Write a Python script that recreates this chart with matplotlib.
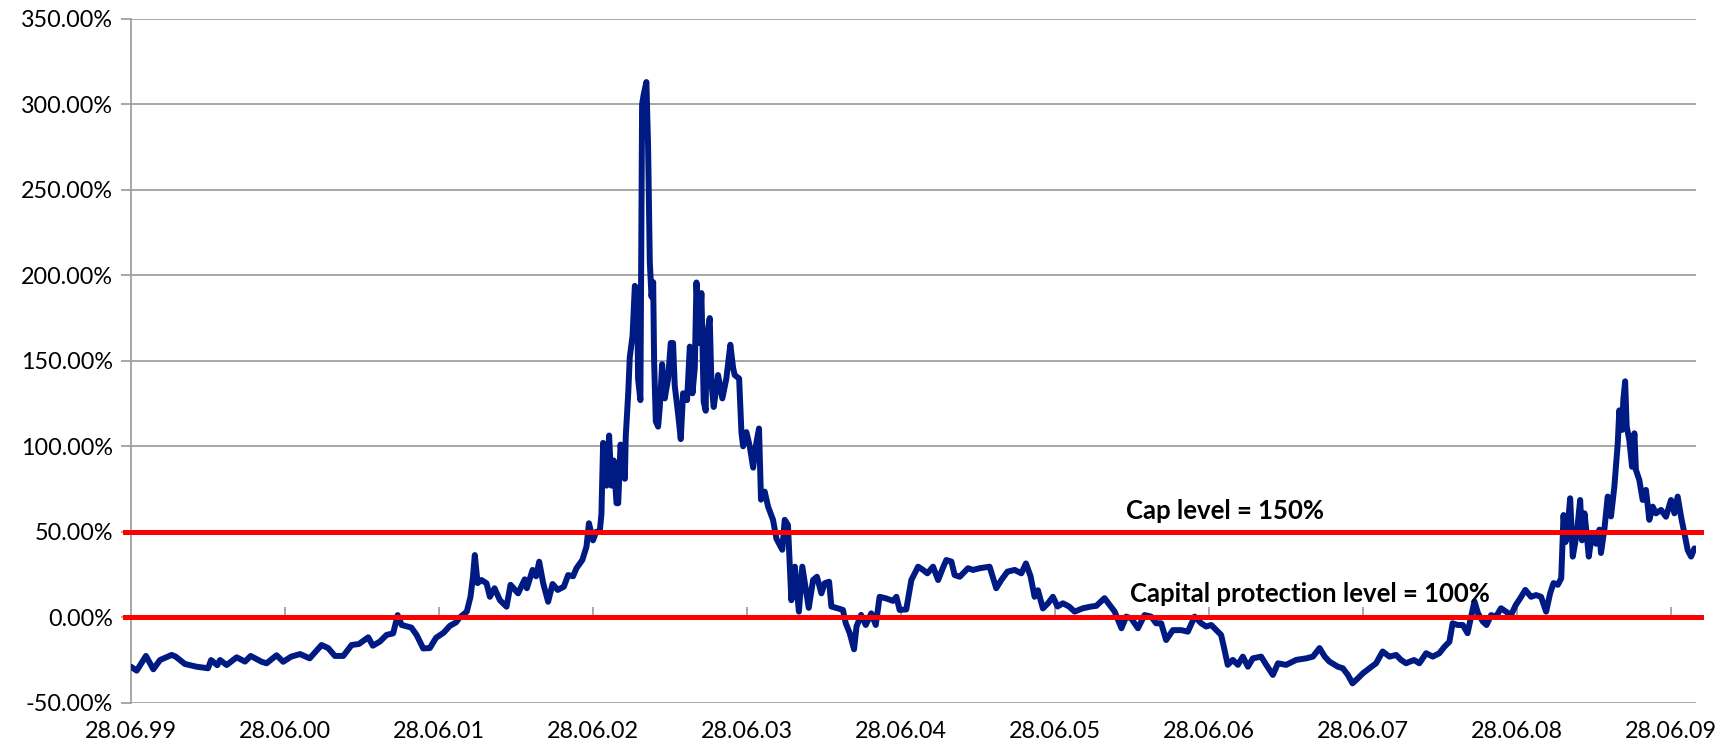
import matplotlib
matplotlib.use("Agg")
import matplotlib.pyplot as plt
import matplotlib.transforms as mtransforms

# ---------------- data ----------------
# x: years elapsed since 28.06.1999 ; y: performance in %
years_since_start = [
    0.00, 0.037, 0.097, 0.145, 0.188, 0.264, 0.29, 0.35, 0.426, 0.50, 0.52, 0.56, 0.578, 0.621,
    0.686, 0.74, 0.777, 0.848, 0.88, 0.945, 0.988, 1.04, 1.097, 1.16, 1.237, 1.28, 1.324, 1.378,
    1.432, 1.48, 1.54, 1.57, 1.616, 1.659, 1.702, 1.731, 1.757, 1.82, 1.854, 1.897, 1.94, 1.98,
    2.03, 2.07, 2.11, 2.135, 2.18, 2.204, 2.22, 2.232, 2.25, 2.275, 2.308, 2.33, 2.36, 2.395,
    2.438, 2.464, 2.513, 2.556, 2.57, 2.607, 2.63, 2.65, 2.676, 2.708, 2.737, 2.77, 2.81, 2.838,
    2.87, 2.892, 2.93, 2.957, 2.973, 2.999, 3.02, 3.043, 3.054, 3.065, 3.087, 3.104, 3.119,
    3.134, 3.152, 3.163, 3.178, 3.206, 3.212, 3.228, 3.238, 3.256, 3.271, 3.286, 3.292, 3.307,
    3.318, 3.329, 3.346, 3.357, 3.368, 3.379, 3.39, 3.396, 3.407, 3.422, 3.433, 3.448, 3.465,
    3.487, 3.504, 3.519, 3.530, 3.552, 3.569, 3.584, 3.610, 3.628, 3.645, 3.66, 3.671, 3.688,
    3.703, 3.718, 3.731, 3.736, 3.757, 3.768, 3.783, 3.811, 3.839, 3.865, 3.891, 3.909, 3.919,
    3.948, 3.963, 3.974, 3.995, 4.017, 4.039, 4.060, 4.077, 4.090, 4.114, 4.136, 4.168, 4.190,
    4.228, 4.244, 4.265, 4.287, 4.31, 4.336, 4.358, 4.385, 4.40, 4.428, 4.453, 4.482, 4.503,
    4.532, 4.547, 4.59, 4.622, 4.64, 4.666, 4.694, 4.71, 4.74, 4.77, 4.806, 4.835, 4.86, 4.904,
    4.947, 4.969, 4.99, 5.033, 5.066, 5.11, 5.142, 5.17, 5.207, 5.24, 5.27, 5.293, 5.326, 5.347,
    5.38, 5.434, 5.466, 5.51, 5.574, 5.617, 5.65, 5.69, 5.737, 5.78, 5.81, 5.84, 5.866, 5.888,
    5.92, 5.953, 5.985, 6.015, 6.05, 6.09, 6.126, 6.18, 6.234, 6.267, 6.32, 6.353, 6.386, 6.43,
    6.461, 6.493, 6.537, 6.58, 6.623, 6.655, 6.688, 6.72, 6.764, 6.818, 6.861, 6.905, 6.948,
    6.98, 7.013, 7.034, 7.077, 7.099, 7.12, 7.153, 7.186, 7.218, 7.251, 7.283, 7.337, 7.37,
    7.413, 7.446, 7.499, 7.565, 7.63, 7.673, 7.716, 7.75, 7.78, 7.835, 7.867, 7.90, 7.93, 7.965,
    7.997, 8.04, 8.083, 8.126, 8.17, 8.213, 8.245, 8.278, 8.30, 8.33, 8.364, 8.408, 8.451,
    8.494, 8.527, 8.559, 8.58, 8.613, 8.646, 8.677, 8.70, 8.722, 8.744, 8.776, 8.80, 8.83,
    8.862, 8.894, 8.927, 8.959, 8.99, 9.018, 9.052, 9.089, 9.122, 9.154, 9.187, 9.213, 9.235,
    9.263, 9.285, 9.30, 9.313, 9.328, 9.343, 9.36, 9.386, 9.408, 9.42, 9.436, 9.45, 9.464,
    9.485, 9.511, 9.533, 9.543, 9.565, 9.587, 9.608, 9.63, 9.652, 9.662, 9.68, 9.688, 9.70,
    9.71, 9.727, 9.745, 9.76, 9.77, 9.792, 9.814, 9.835, 9.857, 9.879, 9.9, 9.933, 9.965,
    9.998, 10.02, 10.041, 10.063, 10.085, 10.106, 10.128, 10.15,
]
performance_pct = [
    -28.9, -31.2, -22.6, -30.4, -25.0, -22.0, -23.0, -27.3, -28.9, -29.8, -25.0, -28.0, -25.0, -27.9,
    -23.4, -25.9, -22.6, -26.0, -26.9, -22.2, -26.0, -23.0, -21.5, -24.0, -16.2, -18.0, -22.6, -22.6,
    -16.2, -15.6, -11.7, -16.6, -14.2, -10.3, -9.4, 1.3, -4.5, -6.0, -10.3, -18.2, -18.0, -12.0,
    -9.0, -5.0, -3.0, 0.0, 3.3, 12.0, 23.7, 36.4, 20.0, 21.8, 19.9, 12.0, 17.0, 10.0,
    6.2, 19.0, 14.0, 22.2, 17.0, 27.7, 24.0, 32.5, 19.9, 9.1, 19.5, 16.0, 17.9, 24.7,
    24.0, 28.7, 33.5, 41.3, 55.0, 45.0, 50.0, 50.0, 60.4, 102.0, 77.0, 106.3, 77.0,
    91.7, 66.7, 66.7, 101.0, 81.0, 106.0, 131.0, 152.0, 164.6, 193.8, 191.7, 139.6, 127.0,
    300.0, 306.0, 313.0, 275.0, 208.0, 187.5, 196.0, 150.0, 114.6, 111.5, 123.0, 148.0, 128.0,
    139.6, 160.4, 160.4, 135.4, 118.8, 104.2, 131.0, 127.0, 158.3, 131.0, 145.8, 195.8, 160.4,
    189.6, 126.0, 120.8, 162.5, 175.0, 137.5, 123.0, 141.7, 128.0, 139.6, 159.4, 145.8, 141.7,
    139.6, 108.0, 100.0, 108.3, 100.0, 87.5, 102.0, 110.4, 68.8, 73.5, 64.7, 57.0, 46.0,
    39.5, 57.0, 54.0, 10.0, 29.6, 3.3, 29.6, 14.0, 5.5, 21.8, 23.7, 14.0, 19.9,
    20.8, 6.3, 5.2, 4.3, -3.4, -9.3, -18.7, -5.4, 1.4, -4.5, 2.3, -4.5, 12.0, 11.0,
    9.6, 12.0, 4.3, 4.6, 21.8, 29.6, 27.7, 25.7, 29.6, 21.8, 28.7, 33.5, 32.6, 24.7,
    23.7, 28.7, 27.7, 28.7, 29.6, 17.0, 21.8, 26.7, 27.7, 25.7, 31.5, 24.0, 12.0, 15.8,
    5.2, 8.2, 12.0, 6.3, 8.2, 6.3, 3.3, 5.3, 6.3, 6.7, 11.2, 7.3, 3.3, -6.4,
    0.4, -0.6, -6.4, 1.3, 0.4, -3.5, -3.5, -13.3, -7.5, -7.5, -8.4, 0.4, -3.5,
    -5.4, -4.5, -6.4, -10.3, -19.0, -27.8, -24.9, -27.8, -23.0, -28.9, -24.0, -23.0, -27.8,
    -33.7, -26.9, -27.8, -24.9, -24.0, -23.0, -18.0, -23.0, -25.9, -28.9, -29.8, -33.7, -38.6, -35.7,
    -32.8, -29.8, -26.9, -20.0, -23.0, -22.0, -24.9, -26.9, -26.0, -25.0, -26.9, -21.0, -23.0,
    -21.0, -17.2, -14.3, -3.5, -4.5, -4.5, -9.3, 0.4, 9.3, 2.5, -2.5, -4.5, 1.3,
    0.4, 5.3, 3.3, 1.3, 7.2, 11.0, 16.0, 12.0, 13.0, 12.0, 3.3, 14.0, 20.0,
    19.0, 22.8, 59.8, 44.0, 53.9, 69.6, 35.5, 49.0, 68.6, 45.0, 60.8, 49.0, 35.5,
    49.0, 43.0, 51.3, 37.6, 51.3, 70.6, 59.0, 76.4, 101.7, 121.0, 109.6, 127.0, 138.0,
    111.5, 103.7, 88.0, 107.6, 86.2, 80.3, 68.6, 74.5, 57.0, 64.7, 60.8, 62.8, 58.8,
    68.6, 60.8, 70.6, 58.8, 49.0, 39.3, 35.5, 40.3,
]

x_tick_positions = [0, 1, 2, 3, 4, 5, 6, 7, 8, 9, 10]
x_tick_labels = ["28.06.99", "28.06.00", "28.06.01", "28.06.02", "28.06.03", "28.06.04",
                 "28.06.05", "28.06.06", "28.06.07", "28.06.08", "28.06.09"]
y_ticks = [-50, 0, 50, 100, 150, 200, 250, 300, 350]
y_tick_labels = ["-50.00%", "0.00%", "50.00%", "100.00%", "150.00%", "200.00%",
                 "250.00%", "300.00%", "350.00%"]

cap_level = 50
protection_level = 0
cap_text = "Cap level = 150%"
protection_text = "Capital protection level = 100%"
cap_text_pos = (6.457, 57.3)
protection_text_pos = (6.486, 9.1)

# ---------------- style ----------------
LINE_BLUE = "#001a84"
RED = "#ff0000"
GRID = "#a0a0a0"
FONT = ["Lato", "DejaVu Sans"]

W, H = 1730, 750
fig = plt.figure(figsize=(W / 100, H / 100), dpi=100)
left, right, top, bottom = 131, 1696, 18.8, 702.8
ax = fig.add_axes([left / W, 1 - bottom / H, (right - left) / W, (bottom - top) / H])

ymin, ymax = -50, 350
ax.set_xlim(0, 10.16)
ax.set_ylim(ymin, ymax)

ax.set_yticks(y_ticks)
ax.set_yticklabels(y_tick_labels, fontfamily=FONT, fontsize=16.8)
ax.yaxis.grid(True, color=GRID, linewidth=1.3)
ax.set_axisbelow(True)
for s in ("top", "right", "bottom"):
    ax.spines[s].set_visible(False)
ax.spines["left"].set_color(GRID)
ax.spines["left"].set_linewidth(1.3)
ax.tick_params(axis="y", length=7, width=1.3, color=GRID, pad=6)

ax.set_xticks(x_tick_positions)
ax.set_xticklabels(x_tick_labels, fontfamily=FONT, fontsize=16.8)
ax.tick_params(axis="x", length=0, pad=13)

# horizontal category axis crossing at 0 (tick marks only)
sec = ax.secondary_xaxis((0 - ymin) / (ymax - ymin))
sec.set_xticks(x_tick_positions[1:])
sec.tick_params(axis="x", direction="in", length=7, width=1.3, color=GRID,
                labelbottom=False)
sec.spines["bottom"].set_color(GRID)
sec.spines["bottom"].set_linewidth(1.3)

# performance line
ax.plot(years_since_start, performance_pct, color=LINE_BLUE, linewidth=4.3,
        solid_joinstyle="round", solid_capstyle="round", zorder=3)

# cap / protection lines
trans = mtransforms.blended_transform_factory(ax.transAxes, ax.transData)
for lvl in (cap_level, protection_level):
    ax.plot([-0.004, 1.003], [lvl, lvl], transform=trans, color=RED, linewidth=3.6,
            clip_on=False, zorder=4)

ax.text(*cap_text_pos, cap_text, fontfamily=FONT, fontweight="bold", fontsize=18.5,
        ha="left", va="baseline", zorder=5)
ax.text(*protection_text_pos, protection_text, fontfamily=FONT, fontweight="bold",
        fontsize=18.5, ha="left", va="baseline", zorder=5)

fig.savefig("out.png", dpi=100)
